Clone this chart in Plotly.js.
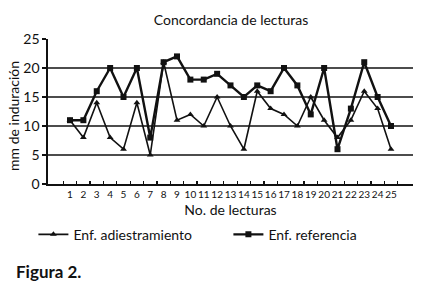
<!DOCTYPE html>
<html>
<head>
<meta charset="utf-8">
<script src="https://cdn.plot.ly/plotly-3.0.1.min.js"></script>
<style>
  html, body { margin: 0; padding: 0; background: #fff; }
  #chart { width: 428px; height: 293px; }
</style>
</head>
<body>
<div id="chart"></div>
<script>
// Reading numbers 1..25
const lecturas = ['1','2','3','4','5','6','7','8','9','10','11','12','13','14','15','16','17','18','19','20','21','22','23','24','25'];

// Induration (mm) read by the nurse in training
const adiestramiento = [11, 8, 14, 8, 6, 14, 5, 21, 11, 12, 10, 15, 10, 6, 16, 13, 12, 10, 15, 11, 8, 11, 16, 13, 6];

// Induration (mm) read by the reference nurse
const referencia = [11, 11, 16, 20, 15, 20, 8, 21, 22, 18, 18, 19, 17, 15, 17, 16, 20, 17, 12, 20, 6, 13, 21, 15, 10];

const yTicks = [0, 5, 10, 15, 20, 25];
const gridValues = [5, 10, 15, 20];

const FONT = 'Lato, "Open Sans", sans-serif';

const traces = [
  {
    x: lecturas, y: adiestramiento, name: 'Enf. adiestramiento',
    type: 'scatter', mode: 'lines+markers',
    line: { color: '#111', width: 1.6 },
    marker: { symbol: 'triangle-up', size: 6, color: '#111' }
  },
  {
    x: lecturas, y: referencia, name: 'Enf. referencia',
    type: 'scatter', mode: 'lines+markers',
    line: { color: '#111', width: 2.4 },
    marker: { symbol: 'square', size: 6, color: '#111' }
  }
];

// Horizontal reference lines across the plot
const gridShapes = gridValues.map(v => ({
  type: 'line', xref: 'paper', yref: 'y',
  x0: 0, x1: 1, y0: v, y1: v,
  line: { color: '#111', width: 1.6 },
  layer: 'below'
}));

const layout = {
  width: 428, height: 293,
  margin: { l: 48, r: 15, t: 39, b: 109 },
  paper_bgcolor: '#fff', plot_bgcolor: '#fff',
  font: { family: FONT, color: '#111' },
  title: {
    text: 'Concordancia de lecturas',
    font: { size: 14, family: FONT, color: '#111' },
    x: 0.54, xanchor: 'center', y: 0.93, yanchor: 'middle'
  },
  xaxis: {
    type: 'category',
    tickson: 'boundaries',
    ticks: 'inside', ticklen: 3, tickwidth: 1.2, tickcolor: '#111',
    showline: true, linecolor: '#111', linewidth: 1.6,
    showgrid: false, zeroline: false,
    tickfont: { size: 10, family: FONT, color: '#111' },
    tickangle: 0,
    title: { text: 'No. de lecturas', font: { size: 14, family: FONT, color: '#111' }, standoff: 6 }
  },
  yaxis: {
    range: [0, 25],
    tickvals: yTicks,
    ticks: 'outside', ticklen: 4, tickwidth: 1.2, tickcolor: '#111',
    showline: true, linecolor: '#111', linewidth: 1.6,
    showgrid: false, zeroline: false,
    tickfont: { size: 14, family: FONT, color: '#111' }
  },
  shapes: gridShapes,
  showlegend: true,
  legend: {
    orientation: 'h',
    x: -0.04, xanchor: 'left',
    y: -0.35, yanchor: 'middle',
    itemwidth: 30,
    entrywidth: 150, entrywidthmode: 'pixels',
    font: { size: 14, family: FONT, color: '#111' },
    bgcolor: 'rgba(0,0,0,0)'
  },
  annotations: [
    {
      // y-axis title, set close to the tick labels
      text: 'mm de induración',
      xref: 'paper', yref: 'paper',
      x: -0.093, y: 0.47, xanchor: 'center', yanchor: 'middle',
      textangle: -90, showarrow: false,
      font: { size: 14, family: FONT, color: '#111' }
    },
    {
      text: '<b>Figura 2.</b>',
      xref: 'paper', yref: 'paper',
      x: -0.093, y: -0.6, xanchor: 'left', yanchor: 'middle',
      showarrow: false,
      font: { size: 17, family: FONT, color: '#111' }
    }
  ]
};

Plotly.newPlot('chart', traces, layout, { displayModeBar: false, staticPlot: true });
</script>
</body>
</html>
